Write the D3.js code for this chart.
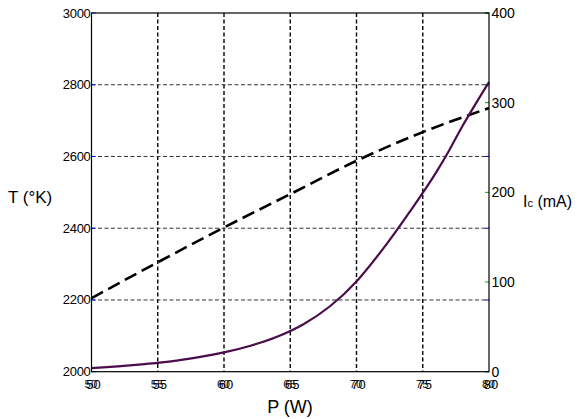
<!DOCTYPE html>
<html><head><meta charset="utf-8">
<script src="https://cdn.jsdelivr.net/npm/d3@7"></script>
<style>body{margin:0;background:#fff}svg{display:block;font-family:"Liberation Sans",Arial,sans-serif}</style>
</head><body>
<svg id="c" width="582" height="419"></svg>
<script>
const xTicks = [50,55,60,65,70,75,80];
const tTicks = [2000,2200,2400,2600,2800,3000];
const iTicks = [0,100,200,300,400];
const powerT = [50,55,60,65,70,75,80];
const tempT = [2205,2305,2402,2495,2588,2668,2735];
const powerI = [50,52,54,56,58,60,62,64,66,68,70,72,74,76,77,78,79,80];
const currentI = [4,6,8.5,11.5,16,21.5,29,39,53,73,100.7,137,178,222,247,274,299,323];

const L=91.5, R=489, T=13, B=371.7;
const svg = d3.select("#c");
const x = d3.scaleLinear().domain([50,80]).range([L,R]);
const yT = d3.scaleLinear().domain([2000,3000]).range([B,T]);
const yI = d3.scaleLinear().domain([0,400]).range([B,T]);

// grid
svg.append("g").selectAll("line").data(xTicks.filter(d=>d>50&&d<80)).join("line")
  .attr("x1",d=>x(d)).attr("x2",d=>x(d)).attr("y1",T).attr("y2",B)
  .attr("stroke","#000").attr("stroke-width",1.4).attr("stroke-dasharray","4,2.5");
svg.append("g").selectAll("line").data(tTicks.filter(d=>d>2000&&d<3000)).join("line")
  .attr("x1",L).attr("x2",R).attr("y1",d=>yT(d)).attr("y2",d=>yT(d))
  .attr("stroke","#333").attr("stroke-width",1).attr("stroke-dasharray","4,2.5");

// ticks
svg.append("g").selectAll("line").data(tTicks).join("line")
  .attr("x1",L).attr("x2",L+4).attr("y1",d=>yT(d)).attr("y2",d=>yT(d)).attr("stroke","#00f").attr("stroke-width",1);
svg.append("g").selectAll("line").data(tTicks).join("line")
  .attr("x1",R-4).attr("x2",R).attr("y1",d=>yT(d)).attr("y2",d=>yT(d)).attr("stroke","#00f").attr("stroke-width",1);
svg.append("g").selectAll("line").data(iTicks).join("line")
  .attr("x1",R-4).attr("x2",R).attr("y1",d=>yI(d)).attr("y2",d=>yI(d)).attr("stroke","#0a0").attr("stroke-width",1);

// lines
svg.append("path").datum(powerT.map((p,i)=>[p,tempT[i]]))
  .attr("d",d3.line().x(d=>x(d[0])).y(d=>yT(d[1])).curve(d3.curveMonotoneX))
  .attr("fill","none").attr("stroke","#000").attr("stroke-width",2.6).attr("stroke-dasharray","13,6");
svg.append("path").datum(powerI.map((p,i)=>[p,currentI[i]]))
  .attr("d",d3.line().x(d=>x(d[0])).y(d=>yI(d[1])).curve(d3.curveMonotoneX))
  .attr("fill","none").attr("stroke","#4b0c4b").attr("stroke-width",2.2);

// frame
svg.append("rect").attr("x",L).attr("y",T).attr("width",R-L).attr("height",B-T)
  .attr("fill","none").attr("stroke","#000").attr("stroke-width",1.2);

// tick labels
svg.append("g").selectAll("text").data(tTicks).join("text")
  .attr("x",L-1).attr("y",d=>yT(d)+4.5).attr("text-anchor","end")
  .attr("font-size",13).attr("letter-spacing",-0.3).text(d=>d);
svg.append("g").selectAll("text").data(iTicks).join("text")
  .attr("x",R+2.5).attr("y",d=>yI(d)+5).attr("text-anchor","start")
  .attr("font-size",14).text(d=>d);
svg.append("g").selectAll("text").data(xTicks).join("text")
  .attr("x",d=>x(d)-0.5).attr("y",B+16).attr("text-anchor","middle")
  .attr("font-size",11.5).attr("fill","#222").text(d=>d);
svg.append("g").selectAll("text").data(xTicks).join("text")
  .attr("x",d=>x(d)+2).attr("y",B+17).attr("text-anchor","middle")
  .attr("font-size",13).text(d=>d);

// axis titles
svg.append("text").attr("x",8).attr("y",203).attr("font-size",17).text("T (°K)");
const ic = svg.append("text").attr("x",523).attr("y",207).attr("font-size",16);
ic.append("tspan").text("I");
ic.append("tspan").attr("font-size",11).text("c");
ic.append("tspan").text(" (mA)");
svg.append("text").attr("x",290).attr("y",413).attr("text-anchor","middle").attr("font-size",18).text("P (W)");
</script>
</body></html>
